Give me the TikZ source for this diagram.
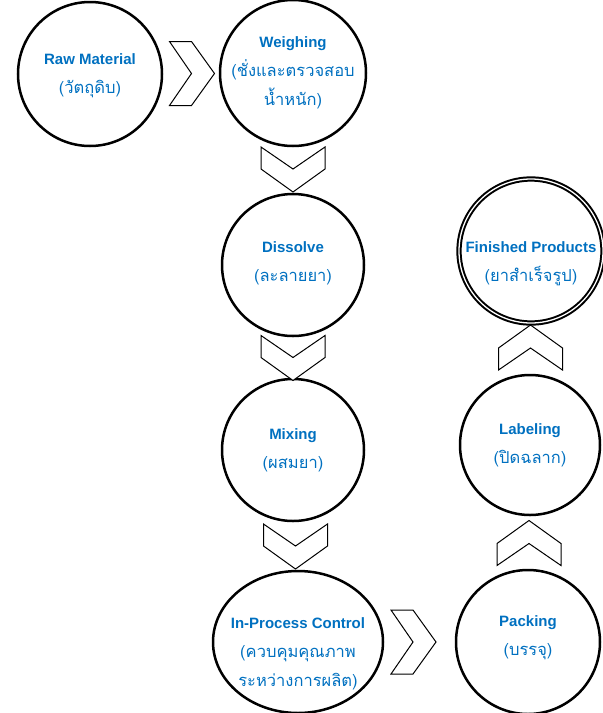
\documentclass[tikz,border=0pt]{standalone}
\usepackage{fontspec}
\setmainfont{Liberation Sans}
\newfontfamily\thaifont[Script=Thai,Scale=1.1]{Loma}
\usepackage{tikz}
\usetikzlibrary{calc,shapes.geometric}

\definecolor{cB}{RGB}{0,112,192}
\tikzset{
  stage/.style={draw,circle,line width=2.5pt,minimum size=#1,inner sep=0pt},
  stage/.default=144pt,
  txt/.style={text=cB,align=center,font=\fontsize{15}{29}\selectfont},
  chev/.pic={\draw[fill=white,line width=1pt] (-22,-32)--(0,-32)--(23,0)--(0,32)--(-22,32)--(0,0)--cycle;}
}

\begin{document}
\begin{tikzpicture}[x=1pt,y=-1pt]
  \useasboundingbox (0,0) rectangle (603,713);
  % stages
  \node[stage] (raw) at (90,74) {};
  \node[stage=146pt] (weigh) at (293,73) {};
  \node[stage=142pt] (dissolve) at (293,265) {};
  \node[stage=142pt] (mix) at (293,450) {};
  \node[draw,ellipse,line width=2.5pt,minimum width=170pt,minimum height=142pt,inner sep=0pt] (ipc) at (298,642) {};
  \node[stage] (pack) at (528,642) {};
  \node[stage=140pt] (label) at (530,445) {};
  \node[stage=144pt,double,double distance=1.3pt,line width=2pt] (finished) at (531,251) {};
  % texts
  \node[txt] (rawtxt) at ([yshift=-2pt]raw) {\textbf{Raw Material}\\{\thaifont(วัตถุดิบ)}};
  \node[txt] (weightxt) at (weigh) {\textbf{Weighing}\\{\thaifont(ชั่งและตรวจสอบ}\\{\thaifont น้ำหนัก)}};
  \node[txt] (dissolvetxt) at ([yshift=2pt]dissolve) {\textbf{Dissolve}\\{\thaifont(ละลายยา)}};
  \node[txt] (mixtxt) at (mix) {\textbf{Mixing}\\{\thaifont(ผสมยา)}};
  \node[txt] (ipctxt) at ([yshift=-12pt]ipc) {\textbf{In-Process Control}\\{\thaifont(ควบคุมคุณภาพ}\\{\thaifont ระหว่างการผลิต)}};
  \node[txt] (packtxt) at ([yshift=4pt]pack) {\textbf{Packing}\\{\thaifont(บรรจุ)}};
  \node[txt] (labeltxt) at (label) {\textbf{Labeling}\\{\thaifont(ปิดฉลาก)}};
  \node[txt] (finishedtxt) at ([yshift=-13pt]finished) {\textbf{Finished Products}\\{\thaifont(ยาสำเร็จรูป)}};
  % chevrons
  \pic at ($(raw)!0.5!(weigh)$) {chev};
  \pic[rotate=-90] at ($(weigh)!0.5!(dissolve)$) {chev};
  \pic[rotate=-90] at ($(dissolve)!0.5!(mix)$) {chev};
  \pic[rotate=-90] at ($(mix)!0.5!(ipc)$) {chev};
  \pic at ($(ipc)!0.5!(pack)$) {chev};
  \pic[rotate=90] at ($(pack)!0.5!(label)$) {chev};
  \pic[rotate=90] at ($(label)!0.5!(finished)$) {chev};
\end{tikzpicture}
\end{document}
